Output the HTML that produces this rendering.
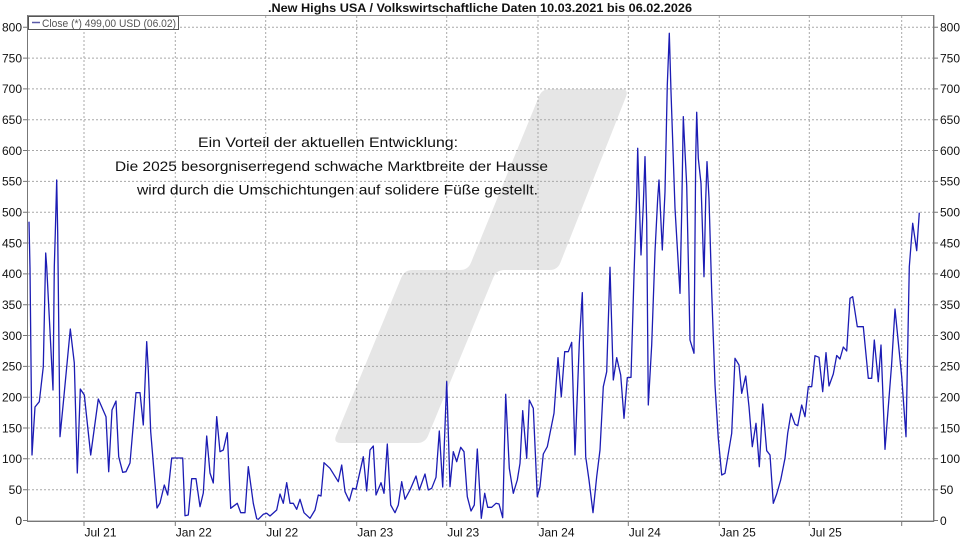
<!DOCTYPE html>
<html><head><meta charset="utf-8"><style>
html,body{margin:0;padding:0;background:#fff;}
svg{display:block;}
text{font-family:"Liberation Sans",Arial,sans-serif;}
</style></head><body>
<svg width="960" height="540" viewBox="0 0 960 540" xmlns="http://www.w3.org/2000/svg">
<rect width="960" height="540" fill="#fff"/>
<!-- watermark -->
<path fill="#e6e6e6" d="M550,89 L621,89 Q629,89 626.1,96.4 L560.4,262.6 Q557.5,270 549.5,270 L504.5,270 Q496.5,270 493.4,277.4 L428.1,435.6 Q425,443 417,443 L341,443 Q333,443 336.1,435.6 L401.4,277.4 Q404.5,270 412.5,270 L460,270 Q468,270 471,262.6 L539,96.4 Q542,89 550,89 Z"/>
<!-- gridlines -->
<g stroke="#a8a8a8" stroke-width="1" stroke-dasharray="2,2" fill="none">
<path d="M28 27.2H934M28 58.1H934M28 88.9H934M28 119.7H934M28 150.5H934M28 181.4H934M28 212.2H934M28 243H934M28 273.9H934M28 304.7H934M28 335.5H934M28 366.4H934M28 397.2H934M28 428H934M28 458.8H934M28 489.7H934"/>
<path d="M84 16V520M175.3 16V520M265.7 16V520M356.7 16V520M446.7 16V520M538 16V520M628.3 16V520M719.3 16V520M809.3 16V520M901.7 16V520"/>
</g>
<!-- frame -->
<rect x="27.5" y="15.5" width="906.5" height="505.5" fill="none" stroke="#909090" stroke-width="1"/>
<line x1="27.5" y1="15" x2="27.5" y2="521" stroke="#777" stroke-width="1"/>
<line x1="933.5" y1="15" x2="933.5" y2="521" stroke="#777" stroke-width="1"/>
<line x1="27" y1="521.5" x2="934" y2="521.5" stroke="#777" stroke-width="1"/>
<!-- y ticks -->
<g stroke="#777" stroke-width="1">
<path d="M23 27.2H27M23 58.1H27M23 88.9H27M23 119.7H27M23 150.5H27M23 181.4H27M23 212.2H27M23 243H27M23 273.9H27M23 304.7H27M23 335.5H27M23 366.4H27M23 397.2H27M23 428H27M23 458.8H27M23 489.7H27M23 520.5H27"/>
<path d="M934 27.2H938M934 58.1H938M934 88.9H938M934 119.7H938M934 150.5H938M934 181.4H938M934 212.2H938M934 243H938M934 273.9H938M934 304.7H938M934 335.5H938M934 366.4H938M934 397.2H938M934 428H938M934 458.8H938M934 489.7H938M934 520.5H938"/>
<path d="M84 521V526M175.3 521V526M265.7 521V526M356.7 521V526M446.7 521V526M538 521V526M628.3 521V526M719.3 521V526M809.3 521V526M901.7 521V526"/>
</g>
<!-- y labels -->
<g font-size="12" fill="#111" text-anchor="end">
<text x="22" y="31.5">800</text><text x="22" y="62.4">750</text><text x="22" y="93.2">700</text><text x="22" y="124">650</text><text x="22" y="154.8">600</text><text x="22" y="185.7">550</text><text x="22" y="216.5">500</text><text x="22" y="247.3">450</text><text x="22" y="278.2">400</text><text x="22" y="309">350</text><text x="22" y="339.8">300</text><text x="22" y="370.7">250</text><text x="22" y="401.5">200</text><text x="22" y="432.3">150</text><text x="22" y="463.1">100</text><text x="22" y="494">50</text><text x="22" y="524.8">0</text>
</g>
<g font-size="12" fill="#111">
<text x="940" y="31.5">800</text><text x="940" y="62.4">750</text><text x="940" y="93.2">700</text><text x="940" y="124">650</text><text x="940" y="154.8">600</text><text x="940" y="185.7">550</text><text x="940" y="216.5">500</text><text x="940" y="247.3">450</text><text x="940" y="278.2">400</text><text x="940" y="309">350</text><text x="940" y="339.8">300</text><text x="940" y="370.7">250</text><text x="940" y="401.5">200</text><text x="940" y="432.3">150</text><text x="940" y="463.1">100</text><text x="940" y="494">50</text><text x="940" y="524.8">0</text>
</g>
<!-- x labels -->
<g font-size="12" fill="#111">
<text x="84.5" y="536.5">Jul 21</text><text x="175.8" y="536.5">Jan 22</text><text x="266.2" y="536.5">Jul 22</text><text x="357.2" y="536.5">Jan 23</text><text x="447.2" y="536.5">Jul 23</text><text x="538.5" y="536.5">Jan 24</text><text x="628.8" y="536.5">Jul 24</text><text x="719.8" y="536.5">Jan 25</text><text x="809.8" y="536.5">Jul 25</text>
</g>
<!-- title -->
<text x="268" y="12" font-size="12" font-weight="bold" fill="#111" textLength="424" lengthAdjust="spacingAndGlyphs">.New Highs USA / Volkswirtschaftliche Daten 10.03.2021 bis 06.02.2026</text>
<!-- annotation -->
<g font-size="14" fill="#111">
<text x="198" y="147" textLength="260" lengthAdjust="spacingAndGlyphs">Ein Vorteil der aktuellen Entwicklung:</text>
<text x="115" y="171" textLength="433" lengthAdjust="spacingAndGlyphs">Die 2025 besorgniserregend schwache Marktbreite der Hausse</text>
<text x="137" y="194.5" textLength="401" lengthAdjust="spacingAndGlyphs">wird durch die Umschichtungen auf solidere Füße gestellt.</text>
</g>
<!-- series -->
<polyline fill="none" stroke="#1c1cb4" stroke-width="1.3" stroke-linejoin="round" points="
29,221.7 30,268 32,455 35,407 39.3,401.7 43.3,366.7 45.7,253 46.7,266.7 53,390 54.3,266.7 55.3,233 56.7,180 57.7,233 60,436.7 63.3,403 70.3,329 74.3,363 77.3,473 80.3,389 84.3,395 90.7,455 98.3,399 106,416.7 108.7,471.7 112,410 116,401 118.7,456.7 122.7,472.3 126,471.7 130,463 136,392.7 140,392.7 143.3,425 146.7,341.7 148.3,370 150.7,431.7 157,508 160,503 164.3,485 167.7,495 171.7,458 182.7,458
185,515.7 188.3,515 191.7,478.7 196,478.7 200,506.7 203.3,493 206.7,436 210,473 213.3,483 216.7,416.7 220,451.7 223.3,450 227.3,432.7 230.7,508.3 237.3,503.3 240.7,512.7 245,512.7 248.3,466.7 253.3,503.3 256.7,518.7 258.3,519.3 263.3,514.3 266.7,513.3 270,516 276.7,510 280,494 283.3,503.3 286.7,482.7 290,503.3 293.3,503.3 296.7,509.3 300,499.3 304,512.7 310,518.3 315,510 318.3,495 321,496 324,462.7 330,468.3 338.3,481.7 341.7,465 345,491.7 349.3,501 352.7,488.3 356,489.3 363.3,456.7 366.7,491 370,450 373.3,446 376,495 381,482.7 384,493.3 387.3,444 390.7,505 395,512.7 398.3,505 401.7,481.7 405,499.3 410,490 416,476 419.3,490 425,474 428.3,490 431.7,488.3 436,477.3 439.3,431 442.7,487 446.7,381.7 450,486.7 453.3,451.7
456.7,461.7 460.7,447.3 464,451.7 467.3,496.7 471,511 474.3,505 477.3,449 481.3,518.3 484.7,493.3 487.7,507.3 491.7,507.3 496,503.3 499,504 502.7,517.7 505.7,394.3 509.3,468.3 513.3,493.3 517.3,480 520,463.3 522.7,410.7 526.7,458.3 529.3,400 533.3,408.3 537.3,496.7 540,486.7 543.3,454 547.3,446.7 554,413.3 558,357.7 561.3,396.7 564.7,351.7 568.3,351.7 571.7,342.3 575,455 579.3,343.3 582.3,292.7 585.7,456.7 589,480 593,512.7 596.7,476.7 600,450 603.3,386.7 606.7,371.7 610,267.3 613.3,380 616.7,357.7 620.7,375 624,418.3 627.3,377.7 631,377.3
634,275 636.7,195 637.7,148.3 639,191.7 641,255 643.3,205 645,156.7 646.7,221.7 648.3,405 651.7,345 655,251.7 657.7,198.3 659,180 660,201.7 662.3,250 665,191.7 667.3,85 669.3,33.3 671,91.7 675,208.3 680,293.3 681.7,211.7 683.3,116.7 685,151.7 686.7,185 690,340 694,353.3 695.7,158.3 696.7,112.3 698.3,158.3 701,183.3 704,276.7 705.7,200 707,161.7 709,198.3 711.7,291.7 715,385 718.3,438.3 721.7,475 725,473.3 731.7,433.3 735,358.3 739,365 741.7,393.3 745.7,376 749,406.7 752.3,446.7 756,423.3 759.3,466.7 762.7,404 766.7,450.7 770,455 773.3,503.3 776.7,494 780.7,480 785,458.3 787.7,433.3 791,413.3 795,424.3 797.7,425.7 801.7,405 805,416.7 808.3,386.7 811.7,386.7 815,355.7 819,357.3 822.7,391.7 826,352.7 829,386 833.3,374 836.7,355.5 840,359 843.3,347 846.7,351 850,298.3 852.7,296.7 857.3,326.7 863.3,326.7 868.3,378.3 871.7,378.3 874.3,340 878.3,381.7 881,345 885,449.3 891.7,363.3 895,309 901.7,376.7 906,436.7 909.3,266.7 912.7,223.3 916.7,250.7 919.3,212.7"/>
<!-- legend -->
<rect x="28.5" y="16.5" width="150" height="13" fill="#fff" stroke="#555" stroke-width="1"/>
<line x1="32" y1="22.5" x2="40" y2="22.5" stroke="#5a5aa8" stroke-width="1.5"/>
<text x="42" y="27" font-size="11" fill="#555" textLength="134" lengthAdjust="spacingAndGlyphs">Close (*) 499,00 USD (06.02)</text>
</svg>
</body></html>
